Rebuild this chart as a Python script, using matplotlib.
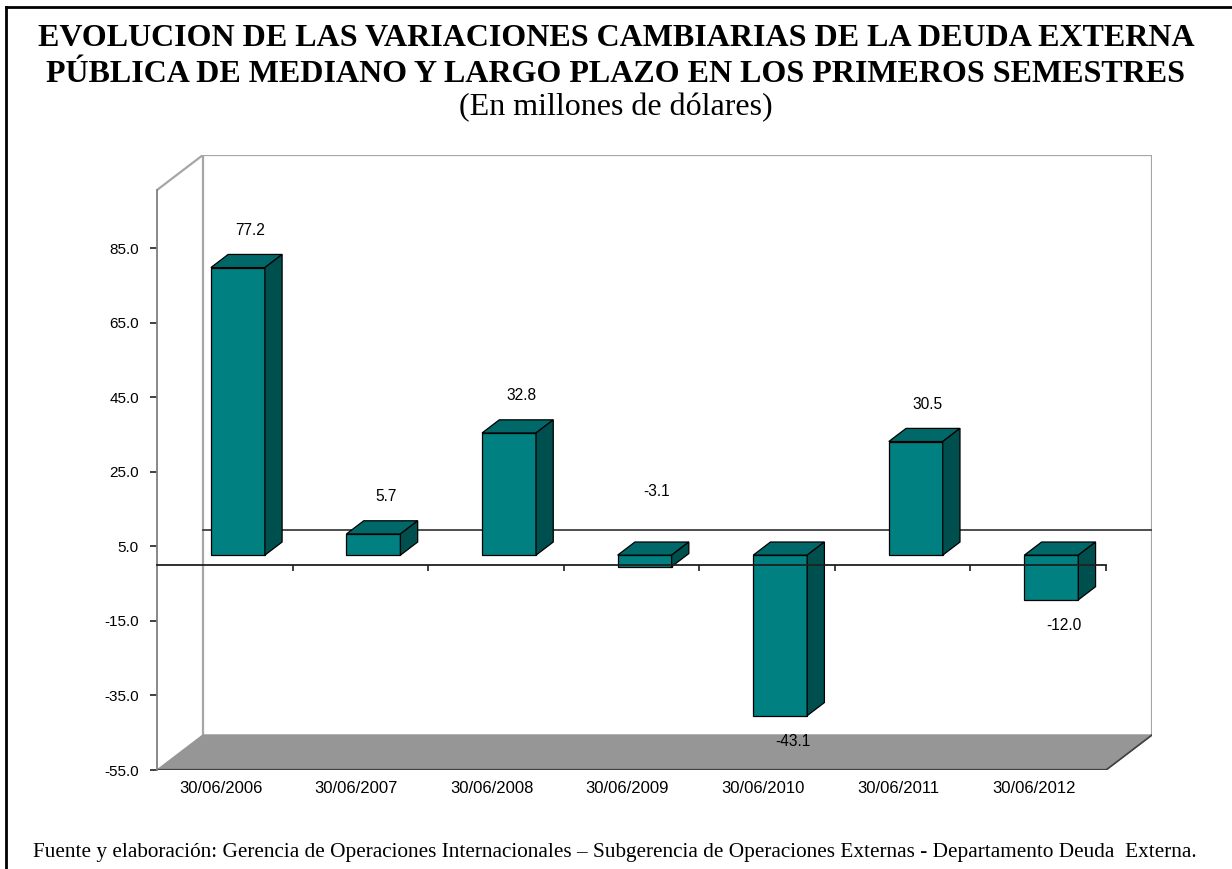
import matplotlib
matplotlib.use("Agg")
import matplotlib.pyplot as plt
from matplotlib.patches import Polygon
from matplotlib.lines import Line2D

# Data (millions of US dollars)
fechas = ['30/06/2006', '30/06/2007', '30/06/2008', '30/06/2009',
          '30/06/2010', '30/06/2011', '30/06/2012']
variacion = [77.2, 5.7, 32.8, -3.1, -43.1, 30.5, -12.0]
yticks = [-55.0, -35.0, -15.0, 5.0, 25.0, 45.0, 65.0, 85.0]

titulo1 = 'EVOLUCION DE LAS VARIACIONES CAMBIARIAS DE LA DEUDA EXTERNA'
titulo2 = 'PÚBLICA DE MEDIANO Y LARGO PLAZO EN LOS PRIMEROS SEMESTRES'
subtitulo = '(En millones de dólares)'
fuente = ('Fuente y elaboración: Gerencia de Operaciones Internacionales \u2013 '
          'Subgerencia de Operaciones Externas - Departamento Deuda  Externa.')

# Fake 3D geometry (Excel style)
YMIN, YTOP = -55.0, 100.7
DX, DY = 0.339, 9.4          # full depth offset in data units
F0, F1 = 0.285, 0.66         # bar front / back depth fractions
W = 0.398                    # bar width
FRONT = '#008080'
TOP = '#006868'
SIDE = '#004f4f'
GRIS = '#a6a6a6'

W_PX, H_PX = 1232, 869
fig = plt.figure(figsize=(W_PX / 100, H_PX / 100), dpi=100)
ax = fig.add_axes([157 / W_PX, (H_PX - 770) / H_PX, 995 / W_PX, 615 / H_PX])
ax.set_xlim(-0.5, 6.5 + DX)
ax.set_ylim(YMIN, YTOP + DY)
ax.patch.set_alpha(0)

n = len(fechas)
xs = list(range(n))

# back wall and side wall outlines
ax.plot([-0.5 + DX, -0.5 + DX, n - 0.5 + DX, n - 0.5 + DX],
        [YMIN + DY, YTOP + DY, YTOP + DY, YMIN + DY],
        color=GRIS, lw=1.6, zorder=0.5)
ax.plot([-0.5, -0.5 + DX], [YTOP, YTOP + DY], color=GRIS, lw=1.6, zorder=0.5)

# floor
floor = Polygon([(-0.5, YMIN), (n - 0.5, YMIN), (n - 0.5 + DX, YMIN + DY),
                 (-0.5 + DX, YMIN + DY)], closed=True,
                facecolor='#969696', edgecolor='#969696', zorder=0.6)
ax.add_patch(floor)
ax.plot([-0.5, n - 0.5], [YMIN, YMIN], color='#404040', lw=1.6, zorder=0.7)
ax.plot([n - 0.5, n - 0.5 + DX], [YMIN, YMIN + DY], color='#404040', lw=1.2, zorder=0.7)

# zero line on back wall
ax.plot([-0.5 + DX, n - 0.5 + DX], [DY, DY], color='#404040', lw=1.3, zorder=0.8)

# bars: front faces via ax.bar, top and side faces as polygons
base = F0 * DY
bx = [x + F0 * DX for x in xs]
ax.bar(bx, variacion, width=W, bottom=base, color=FRONT,
       edgecolor='black', linewidth=0.9, zorder=2)
ddx, ddy = (F1 - F0) * DX, (F1 - F0) * DY
for x, v in zip(bx, variacion):
    left, right = x - W / 2, x + W / 2
    top = base + max(v, 0)
    bot = base + min(v, 0)
    ax.add_patch(Polygon([(left, top), (right, top), (right + ddx, top + ddy),
                          (left + ddx, top + ddy)], closed=True,
                         facecolor=TOP, edgecolor='black', lw=0.9, zorder=2))
    ax.add_patch(Polygon([(right, bot), (right, top), (right + ddx, top + ddy),
                          (right + ddx, bot + ddy)], closed=True,
                         facecolor=SIDE, edgecolor='black', lw=0.9, zorder=2))
    # small negatives get their label above, like Excel did
    if v >= 0:
        ly = top + 10
    elif v > -5:
        ly = top + 17
    else:
        ly = bot - 7
    ax.text(x + 0.09, ly, f'{v:.1f}', ha='center', va='center',
            fontsize=11.2, family='Liberation Sans', zorder=3)

# axes: left value axis, front category axis at zero
for s in ['top', 'right']:
    ax.spines[s].set_visible(False)
ax.spines['left'].set_position(('data', -0.5))
ax.spines['left'].set_bounds(YMIN, YTOP)
ax.spines['left'].set_color('#808080')
ax.spines['left'].set_linewidth(1.3)
ax.spines['bottom'].set_position(('data', 0))
ax.spines['bottom'].set_bounds(-0.5, n - 0.5)
ax.spines['bottom'].set_color('#202020')
ax.spines['bottom'].set_linewidth(1.3)
ax.spines['bottom'].set_zorder(2.5)

ax.set_yticks(yticks)
ax.set_yticklabels([f'{t:.1f}' for t in yticks], family='Liberation Sans', fontsize=11)
ax.tick_params(axis='y', direction='out', length=5, width=1.2, color='#202020', pad=8)
ax.set_xticks([x + 0.5 for x in xs])
ax.set_xticklabels([])
ax.tick_params(axis='x', direction='out', length=4, width=1.2, color='#202020')

for x, lab in zip(xs, fechas):
    ax.annotate(lab, (x - 0.03, YMIN), xytext=(0, -8), textcoords='offset points',
                ha='center', va='top', fontsize=12, family='Liberation Sans')

# titles and source note
fig.text(0.5, 1 - 38 / H_PX, titulo1, ha='center', va='center', fontsize=23,
         fontweight='bold', family='Liberation Serif')
fig.text(0.5, 1 - 75 / H_PX, titulo2, ha='center', va='center', fontsize=23,
         fontweight='bold', family='Liberation Serif')
fig.text(0.5, 1 - 108 / H_PX, subtitulo, ha='center', va='center', fontsize=23,
         family='Liberation Serif')
fig.text(33 / W_PX, 1 - 853 / H_PX, fuente, ha='left', va='center', fontsize=15.3,
         family='Liberation Serif')

# page frame (left and top edges visible)
fig.add_artist(Line2D([6 / W_PX, 6 / W_PX], [0, 1 - 7 / H_PX], color='black', lw=2,
                      transform=fig.transFigure))
fig.add_artist(Line2D([6 / W_PX, 1], [1 - 7 / H_PX, 1 - 7 / H_PX], color='black', lw=2,
                      transform=fig.transFigure))

fig.savefig('out.png', dpi=100)
